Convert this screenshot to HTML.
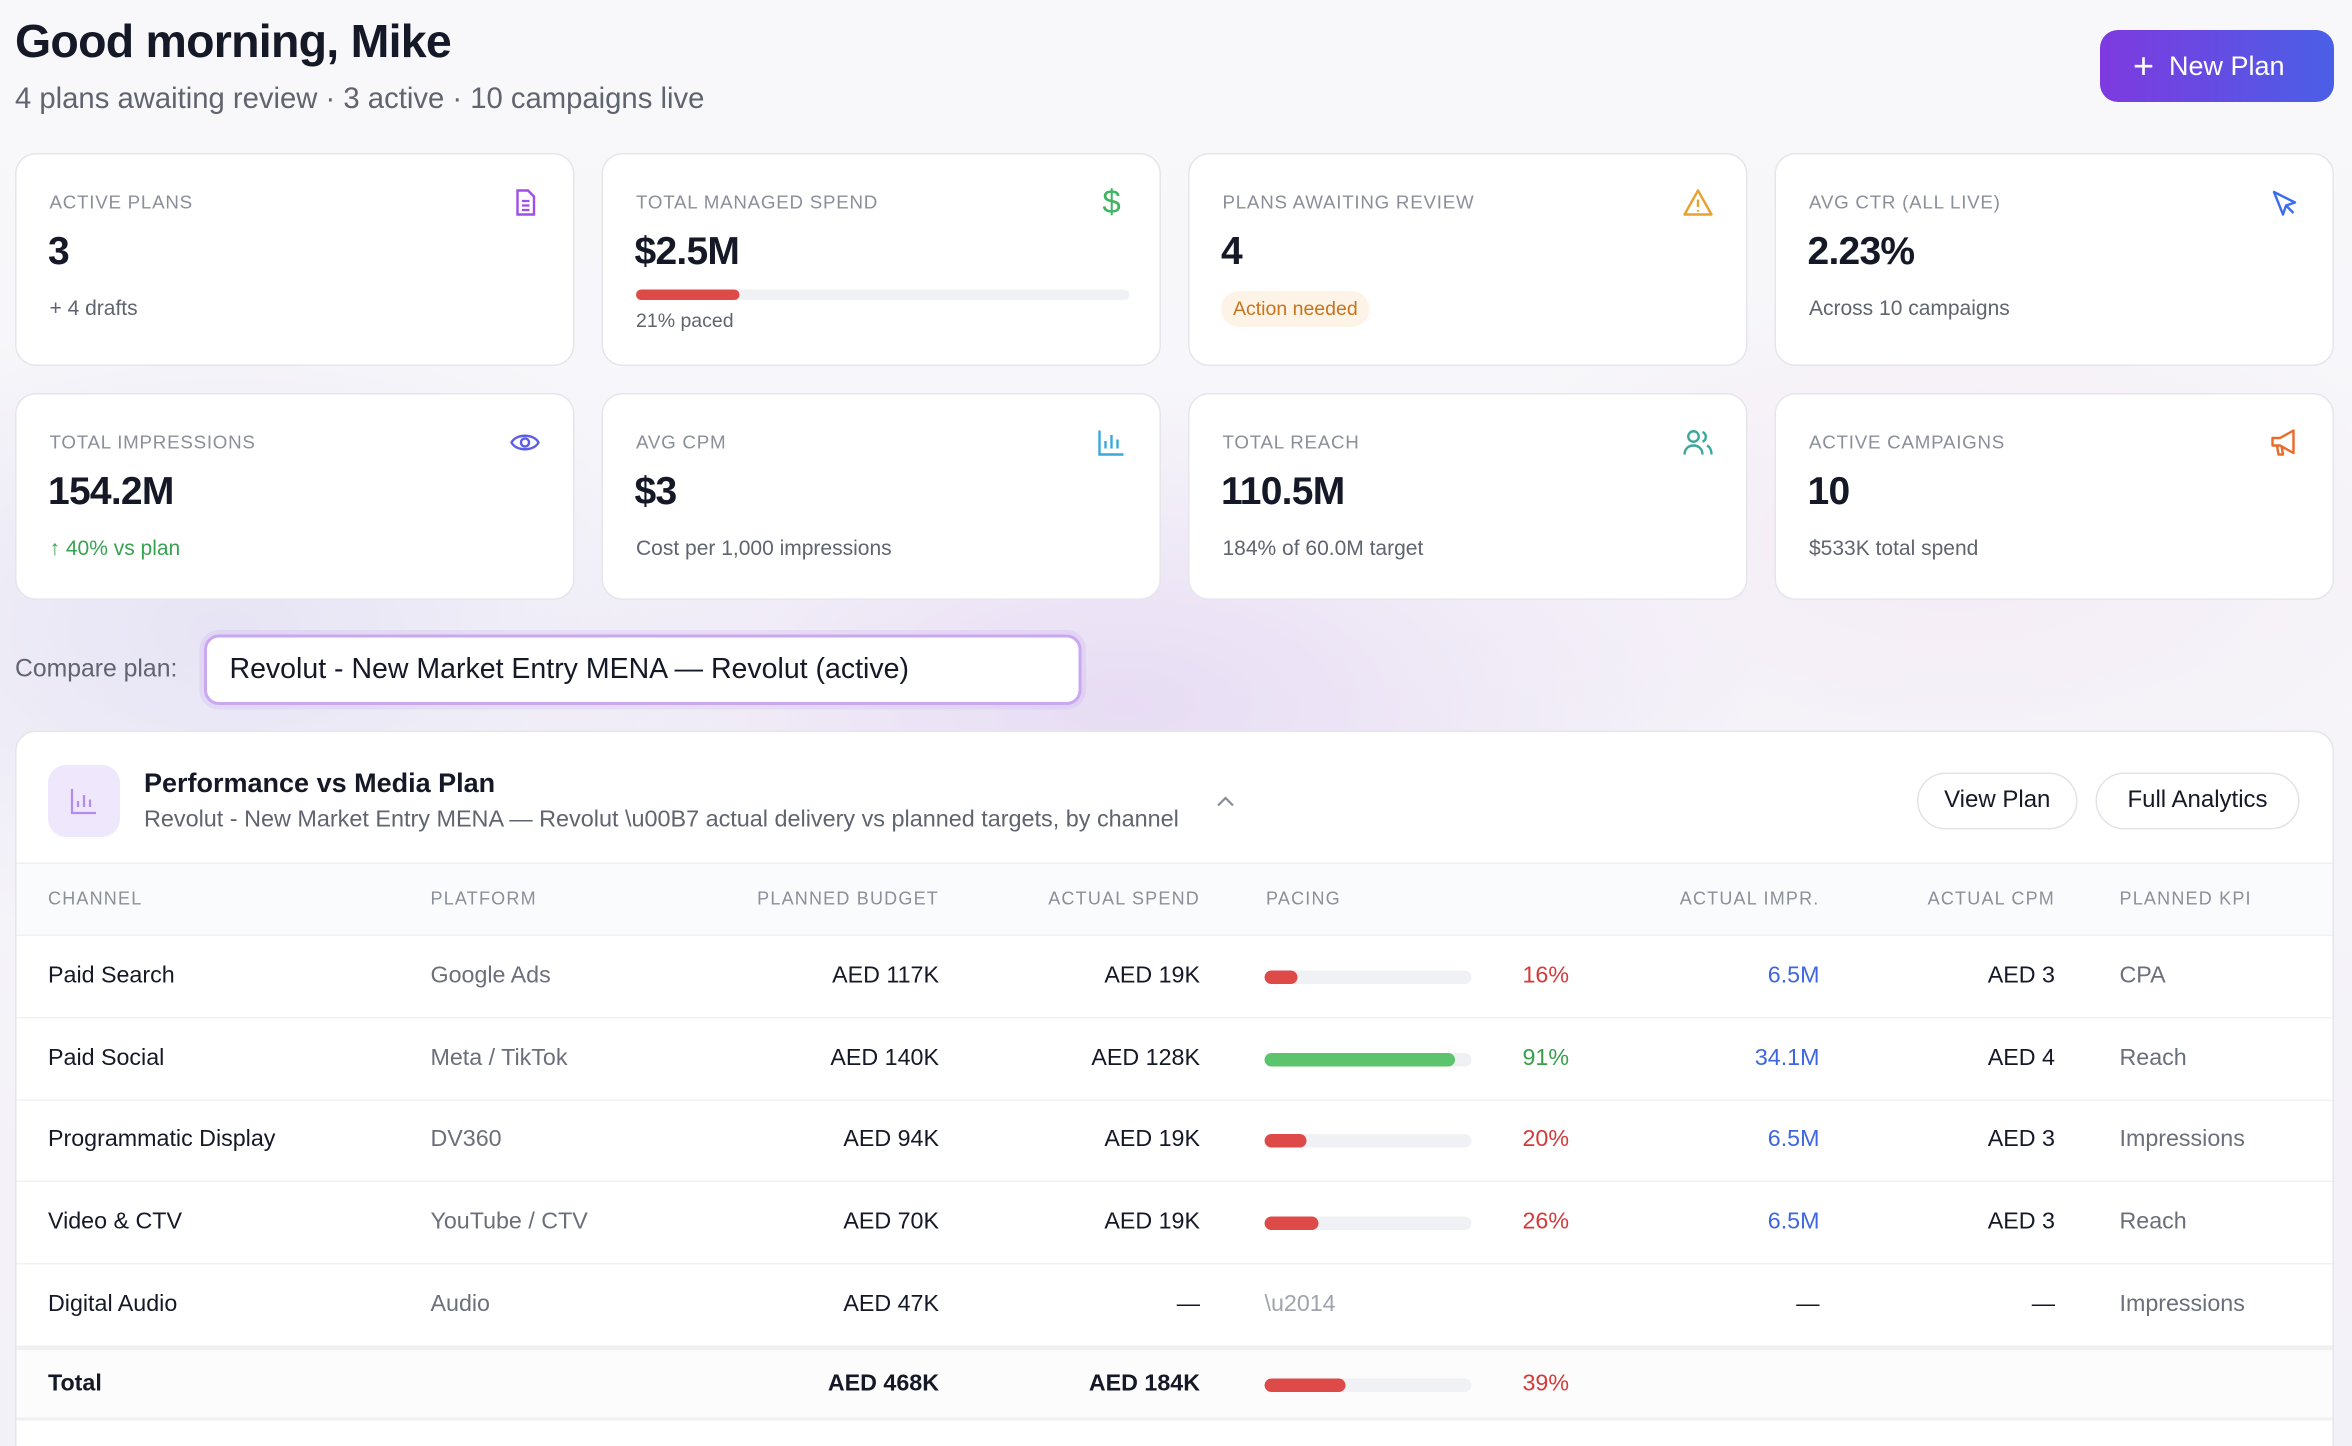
<!DOCTYPE html>
<html><head><meta charset="utf-8">
<style>
*{box-sizing:border-box;margin:0;padding:0}
html,body{width:2352px;height:1446px;overflow:hidden}
body{font-family:"Liberation Sans",sans-serif;color:#151826;background:#f7f7fa}
#w{position:absolute;left:0;top:0;width:1568px;height:964px;overflow:hidden;transform:scale(1.5);transform-origin:0 0;
background:radial-gradient(ellipse 600px 300px at 750px 470px,rgba(220,200,240,.55),transparent 70%),
radial-gradient(ellipse 500px 300px at 150px 420px,rgba(215,210,240,.5),transparent 70%),
radial-gradient(ellipse 500px 250px at 1300px 360px,rgba(240,215,240,.35),transparent 70%),
linear-gradient(180deg,#f8f8fa 0%,#f3f1f8 100%)}
.a{position:absolute;white-space:nowrap}
.card{position:absolute;background:#fff;border:1px solid #e6e5ec;border-radius:14px;width:373px}
.lbl{position:absolute;left:22px;top:25px;font-size:12.5px;letter-spacing:.5px;color:#8b8f9a;text-transform:uppercase}
.val{position:absolute;left:21px;top:49px;font-size:26px;font-weight:bold;letter-spacing:-.5px}
.sub{position:absolute;left:22px;top:94px;font-size:14px;color:#60646f}
.ic{position:absolute;right:22px;top:22px;width:20px;height:20px}
.th{position:absolute;top:592px;font-size:12px;letter-spacing:.8px;color:#8b8f9a}
.r{text-align:right}
.row{font-size:15.5px}
.bar{position:absolute;left:843px;width:138px;height:9px;border-radius:5px;background:#f0f1f4;overflow:hidden}
.bar i{display:block;height:100%;border-radius:5px}
.line{position:absolute;left:11px;width:1544px;height:1px;background:#f0f1f3}
</style></head><body><div id="w">
<div class="a" style="left:10px;top:10px;font-size:31px;font-weight:bold;letter-spacing:-.5px">Good morning, Mike</div>
<div class="a" style="left:10px;top:55px;font-size:19.5px;color:#60646f">4 plans awaiting review · 3 active · 10 campaigns live</div>
<div class="a" style="left:1400px;top:20px;width:156px;height:48px;border-radius:12px;background:linear-gradient(90deg,#7e3ae0,#4a5fe6);color:#fff;font-size:18px;line-height:48px;padding-left:22px"><span style="font-size:24px;font-weight:normal;vertical-align:-2px;margin-right:10px">+</span>New Plan</div>

<div class="card" style="left:10px;top:102px;height:142px"><div class="lbl">Active Plans</div><svg class="ic" viewBox="0 0 20 20"><path d="M5 2h7l4 4v12H5z" fill="none" stroke="#a04ee8" stroke-width="1.6"/><path d="M8 9h5M8 12h5M8 15h5" stroke="#a04ee8" stroke-width="1.5"/></svg><div class="val">3</div><div class="sub" style="top:94px">+ 4 drafts</div></div>
<div class="card" style="left:401px;top:102px;height:142px"><div class="lbl">Total Managed Spend</div><div class="ic" style="color:#3fb462;font-size:22px;line-height:20px;text-align:center">$</div><div class="val">$2.5M</div><div style="position:absolute;left:22px;top:90px;width:329px;height:7px;border-radius:4px;background:#f0f1f4"><div style="width:69px;height:7px;border-radius:4px;background:#dd4a48"></div></div><div class="sub" style="top:103px;font-size:13px">21% paced</div></div>
<div class="card" style="left:792px;top:102px;height:142px"><div class="lbl">Plans Awaiting Review</div><svg class="ic" viewBox="0 0 20 20"><path d="M10 2L19 18H1z" fill="none" stroke="#e8a030" stroke-width="1.6" stroke-linejoin="round"/><path d="M10 8v5M10 15v1" stroke="#e8a030" stroke-width="1.6"/></svg><div class="val">4</div><div style="position:absolute;left:21px;top:91px;height:24px;padding:0 8px;border-radius:12px;background:#fdf3e6;color:#c8741c;font-size:13px;line-height:24px">Action needed</div></div>
<div class="card" style="left:1183px;top:102px;height:142px"><div class="lbl">Avg CTR (All Live)</div><svg class="ic" viewBox="0 0 20 20"><path d="M3 3l6 15 2-6 6-2z" fill="none" stroke="#3b6ff0" stroke-width="1.6" stroke-linejoin="round"/><path d="M11 12l5 5" stroke="#3b6ff0" stroke-width="1.6"/></svg><div class="val">2.23%</div><div class="sub">Across 10 campaigns</div></div>

<div class="card" style="left:10px;top:262px;height:138px"><div class="lbl">Total Impressions</div><svg class="ic" viewBox="0 0 20 20"><path d="M1 10c3-6 15-6 18 0c-3 6-15 6-18 0z" fill="none" stroke="#5b5ce8" stroke-width="1.6"/><circle cx="10" cy="10" r="2.7" fill="none" stroke="#5b5ce8" stroke-width="1.6"/></svg><div class="val">154.2M</div><div class="sub" style="color:#35a34f">↑ 40% vs plan</div></div>
<div class="card" style="left:401px;top:262px;height:138px"><div class="lbl">Avg CPM</div><svg class="ic" viewBox="0 0 20 20"><path d="M2 2v16h16M6 14V9M10 14V5M14 14V8" fill="none" stroke="#3aa8d8" stroke-width="1.6"/></svg><div class="val">$3</div><div class="sub">Cost per 1,000 impressions</div></div>
<div class="card" style="left:792px;top:262px;height:138px"><div class="lbl">Total Reach</div><svg class="ic" viewBox="0 0 20 20"><circle cx="7" cy="6" r="3.5" fill="none" stroke="#3aa89a" stroke-width="1.6"/><path d="M1 18c0-4 3-6 6-6s6 2 6 6M13 3a3.5 3.5 0 010 6.5M16 12c2 1 3 3 3 6" fill="none" stroke="#3aa89a" stroke-width="1.6"/></svg><div class="val">110.5M</div><div class="sub">184% of 60.0M target</div></div>
<div class="card" style="left:1183px;top:262px;height:138px"><div class="lbl">Active Campaigns</div><svg class="ic" viewBox="0 0 20 20"><path d="M2 7h5l9-5v15l-9-5H2zM5 12l1 6h3l-1-6" fill="none" stroke="#ea6a2a" stroke-width="1.6" stroke-linejoin="round"/></svg><div class="val">10</div><div class="sub">$533K total spend</div></div>

<div class="a" style="left:10px;top:437px;font-size:16.5px;color:#60646f">Compare plan:</div>
<div class="a" style="left:136px;top:423px;width:585px;height:47px;border:2px solid #c9a8f0;border-radius:10px;background:#fff;font-size:19px;line-height:43px;padding-left:15px;box-shadow:0 0 0 3px rgba(200,170,240,.25)">Revolut - New Market Entry MENA — Revolut (active)</div>

<div class="a" style="left:10px;top:487px;width:1546px;height:500px;background:#fff;border:1px solid #e6e5ec;border-radius:14px"></div>
<div class="a" style="left:32px;top:510px;width:48px;height:48px;border-radius:12px;background:#efe8fc"><svg style="position:absolute;left:14px;top:14px" width="20" height="20" viewBox="0 0 20 20"><path d="M2 2v16h16M6 14V10M10 14V6M14 14V9" fill="none" stroke="#b48cf0" stroke-width="1.5"/></svg></div>
<div class="a" style="left:96px;top:512px;font-size:18px;font-weight:bold">Performance vs Media Plan</div>
<div class="a" style="left:96px;top:538px;font-size:15.6px;color:#60646f">Revolut - New Market Entry MENA — Revolut \u00B7 actual delivery vs planned targets, by channel</div>
<svg class="a" style="left:810px;top:529px" width="14" height="10" viewBox="0 0 14 10"><path d="M2 8l5-5 5 5" fill="none" stroke="#8b8f9a" stroke-width="1.5"/></svg>
<div class="a" style="left:1278px;top:515px;width:107px;height:38px;border:1px solid #e2e3e8;border-radius:19px;font-size:16px;line-height:36px;text-align:center">View Plan</div>
<div class="a" style="left:1397px;top:515px;width:136px;height:38px;border:1px solid #e2e3e8;border-radius:19px;font-size:16px;line-height:36px;text-align:center">Full Analytics</div>

<div class="a" style="left:11px;top:575px;width:1544px;height:49px;background:#fafbfc;border-top:1px solid #eef0f2;border-bottom:1px solid #eef0f2"></div>
<div class="th" style="left:32px">CHANNEL</div>
<div class="th" style="left:287px">PLATFORM</div>
<div class="th r" style="left:426px;width:200px">PLANNED BUDGET</div>
<div class="th r" style="left:600px;width:200px">ACTUAL SPEND</div>
<div class="th" style="left:844px">PACING</div>
<div class="th r" style="left:1013px;width:200px">ACTUAL IMPR.</div>
<div class="th r" style="left:1170px;width:200px">ACTUAL CPM</div>
<div class="th" style="left:1413px">PLANNED KPI</div>

<div class="line" style="top:678px"></div><div class="line" style="top:733px"></div><div class="line" style="top:787px"></div><div class="line" style="top:842px"></div>
<div class="a" style="left:11px;top:897px;width:1544px;height:50px;background:#fcfcfd;border-top:3px solid #eef0f2;border-bottom:2px solid #eef0f2"></div>

<div class="a row" style="left:32px;top:642px">Paid Search</div><div class="a row" style="left:287px;top:642px;color:#6b6f7a">Google Ads</div><div class="a row r" style="left:426px;width:200px;top:642px">AED 117K</div><div class="a row r" style="left:600px;width:200px;top:642px">AED 19K</div><div class="bar" style="top:647px"><i style="width:22px;background:#dd4a48"></i></div><div class="a row r" style="left:946px;width:100px;top:642px;color:#d43a38">16%</div><div class="a row r" style="left:1013px;width:200px;top:642px;color:#3f66e0">6.5M</div><div class="a row r" style="left:1170px;width:200px;top:642px">AED 3</div><div class="a row" style="left:1413px;top:642px;color:#6b6f7a">CPA</div>

<div class="a row" style="left:32px;top:697px">Paid Social</div><div class="a row" style="left:287px;top:697px;color:#6b6f7a">Meta / TikTok</div><div class="a row r" style="left:426px;width:200px;top:697px">AED 140K</div><div class="a row r" style="left:600px;width:200px;top:697px">AED 128K</div><div class="bar" style="top:702px"><i style="width:127px;background:#5cc46c"></i></div><div class="a row r" style="left:946px;width:100px;top:697px;color:#3a9e4c">91%</div><div class="a row r" style="left:1013px;width:200px;top:697px;color:#3f66e0">34.1M</div><div class="a row r" style="left:1170px;width:200px;top:697px">AED 4</div><div class="a row" style="left:1413px;top:697px;color:#6b6f7a">Reach</div>

<div class="a row" style="left:32px;top:751px">Programmatic Display</div><div class="a row" style="left:287px;top:751px;color:#6b6f7a">DV360</div><div class="a row r" style="left:426px;width:200px;top:751px">AED 94K</div><div class="a row r" style="left:600px;width:200px;top:751px">AED 19K</div><div class="bar" style="top:756px"><i style="width:28px;background:#dd4a48"></i></div><div class="a row r" style="left:946px;width:100px;top:751px;color:#d43a38">20%</div><div class="a row r" style="left:1013px;width:200px;top:751px;color:#3f66e0">6.5M</div><div class="a row r" style="left:1170px;width:200px;top:751px">AED 3</div><div class="a row" style="left:1413px;top:751px;color:#6b6f7a">Impressions</div>

<div class="a row" style="left:32px;top:806px">Video &amp; CTV</div><div class="a row" style="left:287px;top:806px;color:#6b6f7a">YouTube / CTV</div><div class="a row r" style="left:426px;width:200px;top:806px">AED 70K</div><div class="a row r" style="left:600px;width:200px;top:806px">AED 19K</div><div class="bar" style="top:811px"><i style="width:36px;background:#dd4a48"></i></div><div class="a row r" style="left:946px;width:100px;top:806px;color:#d43a38">26%</div><div class="a row r" style="left:1013px;width:200px;top:806px;color:#3f66e0">6.5M</div><div class="a row r" style="left:1170px;width:200px;top:806px">AED 3</div><div class="a row" style="left:1413px;top:806px;color:#6b6f7a">Reach</div>

<div class="a row" style="left:32px;top:861px">Digital Audio</div><div class="a row" style="left:287px;top:861px;color:#6b6f7a">Audio</div><div class="a row r" style="left:426px;width:200px;top:861px">AED 47K</div><div class="a row r" style="left:600px;width:200px;top:861px">—</div><div class="a row" style="left:843px;top:861px;color:#a0a4ad">\u2014</div><div class="a row r" style="left:1013px;width:200px;top:861px">—</div><div class="a row r" style="left:1170px;width:200px;top:861px">—</div><div class="a row" style="left:1413px;top:861px;color:#6b6f7a">Impressions</div>

<div class="a row" style="left:32px;top:914px;font-weight:bold">Total</div><div class="a row r" style="left:426px;width:200px;top:914px;font-weight:bold">AED 468K</div><div class="a row r" style="left:600px;width:200px;top:914px;font-weight:bold">AED 184K</div><div class="bar" style="top:919px"><i style="width:54px;background:#dd4a48"></i></div><div class="a row r" style="left:946px;width:100px;top:914px;color:#d43a38">39%</div>
</div></body></html>
